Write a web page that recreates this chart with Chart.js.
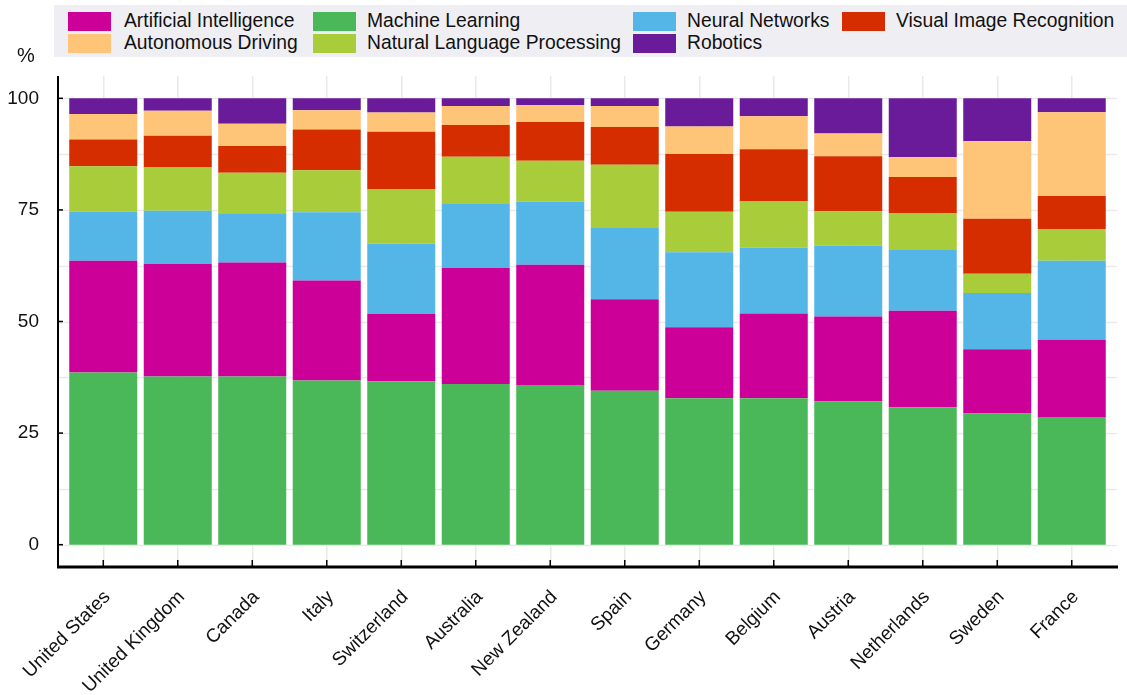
<!DOCTYPE html>
<html lang="en">
<head>
    <meta charset="UTF-8">
    <title>AI fields by country</title>
    <script src="https://cdn.jsdelivr.net/npm/chart.js"></script>
    <style>
        body {
            margin: 0;
            background: #ffffff;
            font-family: "Liberation Sans", Arial, sans-serif;
        }

        .wrap {
            position: relative;
            width: 1127px;
            height: 695px;
        }

        #chart {
            position: absolute;
            left: 0;
            top: 0;
        }

        .legend {
            position: absolute;
            left: 54px;
            top: 5px;
            width: 1073px;
            height: 52px;
            box-sizing: border-box;
            padding: 5px 0 0 14px;
            background: #efeef2;
            display: grid;
            grid-template-rows: 22px 22px;
            grid-template-columns: 233px 308px 197px auto;
            grid-auto-flow: column;
            column-gap: 12px;
            font-size: 19.3px;
            color: #111;
        }

        .legend-item {
            display: flex;
            align-items: center;
            white-space: nowrap;
        }

        .legend-box {
            width: 43px;
            height: 19px;
            margin-right: 11px;
            flex: none;
        }

        .legend-item:nth-child(-n+2) .legend-box {
            margin-right: 13px;
        }

        .unit {
            position: absolute;
            left: 17px;
            top: 44px;
            font-size: 20px;
            color: #111;
        }
    </style>
</head>
<body>
    <div class="wrap">
        <canvas id="chart" width="1127" height="695"></canvas>
        <div class="legend" id="legend"></div>
        <div class="unit">%</div>
    </div>

    <script>
        // values, in % of each country's total
        const countries = ['United States', 'United Kingdom', 'Canada', 'Italy', 'Switzerland', 'Australia',
            'New Zealand', 'Spain', 'Germany', 'Belgium', 'Austria', 'Netherlands', 'Sweden', 'France'];

        const machineLearning = [38.6, 37.7, 37.7, 36.8, 36.6, 36.0, 35.8, 34.5, 32.8, 32.8, 32.1, 30.8, 29.4, 28.6];
        const artificialIntelligence = [25.0, 25.2, 25.5, 22.4, 15.1, 26.0, 26.9, 20.5, 15.9, 19.0, 19.0, 21.6, 14.4, 17.3];
        const neuralNetworks = [11.0, 11.9, 10.9, 15.3, 15.7, 14.3, 14.2, 16.1, 16.8, 14.8, 15.9, 13.6, 12.6, 17.7];
        const naturalLanguage = [10.2, 9.7, 9.2, 9.4, 12.2, 10.6, 9.1, 14.0, 9.1, 10.3, 7.7, 8.3, 4.3, 7.1];
        const visualRecognition = [6.0, 7.1, 6.0, 9.1, 12.9, 7.1, 8.7, 8.5, 12.9, 11.7, 12.3, 8.1, 12.3, 7.4];
        const autonomousDriving = [5.7, 5.6, 5.0, 4.3, 4.3, 4.3, 3.8, 4.7, 6.2, 7.4, 5.1, 4.4, 17.4, 18.8];
        const robotics = [3.5, 2.8, 5.7, 2.7, 3.2, 1.7, 1.5, 1.7, 6.3, 4.0, 7.9, 13.2, 9.6, 3.1];

        const yTicks = [0, 12.5, 25, 37.5, 50, 62.5, 75, 87.5, 100];

        // stacking order, bottom to top
        const series = [
            { label: 'Machine Learning', data: machineLearning, color: '#4ab858' },
            { label: 'Artificial Intelligence', data: artificialIntelligence, color: '#cc0099' },
            { label: 'Neural Networks', data: neuralNetworks, color: '#53b6e6' },
            { label: 'Natural Language Processing', data: naturalLanguage, color: '#a8cc3a' },
            { label: 'Visual Image Recognition', data: visualRecognition, color: '#d62d00' },
            { label: 'Autonomous Driving', data: autonomousDriving, color: '#fec477' },
            { label: 'Robotics', data: robotics, color: '#6a1b9a' }
        ];

        const FONT = '"Liberation Sans", Arial, sans-serif';
        const EXT = 8; // axes stick out a bit past the plot area

        // gridlines along y, a little wider than the plot area
        const hGrid = {
            id: 'hGrid',
            beforeDatasetsDraw(chart) {
                const { ctx, chartArea, scales } = chart;
                ctx.save();
                ctx.strokeStyle = '#e9e9e9';
                ctx.lineWidth = 1.5;
                yTicks.forEach(v => {
                    const y = Math.round(scales.y.getPixelForValue(v)) + 0.5;
                    ctx.beginPath();
                    ctx.moveTo(chartArea.left - EXT, y);
                    ctx.lineTo(chartArea.right + EXT, y);
                    ctx.stroke();
                });
                ctx.restore();
            }
        };

        // black axis lines with inner tick marks
        const axes = {
            id: 'axes',
            afterDraw(chart) {
                const { ctx, chartArea, scales } = chart;
                const left = chartArea.left - EXT;
                const bottom = chartArea.bottom;
                ctx.save();
                ctx.strokeStyle = '#000';

                ctx.lineWidth = 1.5;
                scales.x.ticks.forEach((t, i) => {
                    const x = scales.x.getPixelForTick(i);
                    ctx.beginPath();
                    ctx.moveTo(x, bottom);
                    ctx.lineTo(x, bottom - 7);
                    ctx.stroke();
                });
                yTicks.filter(v => v % 25 === 0).forEach(v => {
                    const y = scales.y.getPixelForValue(v);
                    ctx.beginPath();
                    ctx.moveTo(left, y);
                    ctx.lineTo(left + 5, y);
                    ctx.stroke();
                });

                ctx.lineWidth = 2;
                ctx.beginPath();
                ctx.moveTo(left, chartArea.top);
                ctx.lineTo(left, bottom);
                ctx.stroke();

                ctx.lineWidth = 3;
                ctx.beginPath();
                ctx.moveTo(left - 1, bottom);
                ctx.lineTo(chartArea.right + EXT + 1, bottom);
                ctx.stroke();
                ctx.restore();
            }
        };

        const chart = new Chart(document.getElementById('chart'), {
            type: 'bar',
            data: {
                labels: countries,
                datasets: series.map(s => ({
                    label: s.label,
                    data: s.data,
                    backgroundColor: s.color,
                    borderWidth: 0,
                    barPercentage: 0.913,
                    categoryPercentage: 1
                }))
            },
            options: {
                responsive: false,
                animation: false,
                layout: { padding: { top: 76, right: 18, left: 0, bottom: 0 } },
                plugins: {
                    legend: { display: false },
                    tooltip: { enabled: false }
                },
                scales: {
                    x: {
                        stacked: true,
                        afterFit: scale => { scale.height = 128; },
                        border: { display: false },
                        grid: { offset: false, drawTicks: false, color: '#e9e9e9', lineWidth: 1.5 },
                        ticks: {
                            autoSkip: false,
                            maxRotation: 45,
                            minRotation: 45,
                            padding: 19,
                            labelOffset: 4,
                            color: '#111',
                            font: { family: FONT, size: 19 }
                        }
                    },
                    y: {
                        stacked: true,
                        min: -5,
                        max: 105,
                        afterFit: scale => { scale.width = 66; },
                        afterBuildTicks: scale => { scale.ticks = yTicks.map(v => ({ value: v })); },
                        border: { display: false },
                        grid: { display: false, drawTicks: false },
                        ticks: {
                            padding: 27,
                            color: '#111',
                            font: { family: FONT, size: 19 },
                            callback: v => (v % 25 === 0 ? v : '')
                        }
                    }
                }
            },
            plugins: [hGrid, axes]
        });

        // legend: alphabetical, filled column by column in two rows
        const legendEl = document.getElementById('legend');
        chart.data.datasets
            .map(d => ({ label: d.label, color: d.backgroundColor }))
            .sort((a, b) => a.label.localeCompare(b.label))
            .forEach(item => {
                const el = document.createElement('div');
                el.className = 'legend-item';
                el.innerHTML = '<span class="legend-box" style="background:' + item.color + '"></span>' + item.label;
                legendEl.appendChild(el);
            });
    </script>
</body>
</html>
